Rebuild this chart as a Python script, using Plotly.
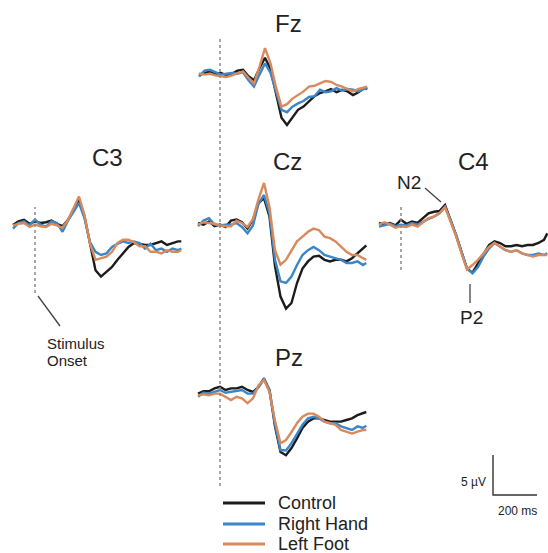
import plotly.graph_objects as go

W, H = 548, 553
PX_MS = 0.22   # pixels per millisecond
PX_UV = 8.0    # pixels per microvolt

# time points (ms)
T = [-100, -75, -50, -25, 0, 25, 50, 75, 100, 125, 150, 175, 200, 225, 250, 275,
     300, 325, 350, 375, 400, 425, 450, 475, 500, 525, 550, 575, 600, 625, 650, 665]

# amplitudes (microvolts, negative plotted up)
fz_control    = [0.25, 0.0, -0.2, 0.1, 0.0, 0.3, 0.1, -0.3, -0.4, 0.4, 0.9, -0.6, -1.9, -0.5, 2.6, 5.6,
                 6.5, 5.6, 4.6, 4.2, 3.6, 2.9, 2.5, 2.3, 2.0, 2.4, 2.1, 2.3, 2.75, 2.4, 1.9, 2.0]
fz_right_hand = [0.45, -0.3, -0.4, -0.1, 0.2, 0.1, 0.0, 0.1, -0.1, 0.9, 1.7, 0.2, -1.2, 0.0, 2.4, 4.6,
                 4.9, 4.2, 3.8, 3.5, 3.0, 2.9, 2.1, 2.4, 2.3, 1.9, 2.2, 2.0, 2.1, 2.3, 2.0, 1.9]
fz_left_foot  = [0.05, 0.2, 0.1, 0.3, 0.4, 0.5, 0.3, 0.0, -0.2, 0.6, 1.3, -0.8, -3.1, -1.2, 1.8, 4.2,
                 3.9, 3.2, 2.8, 2.3, 1.7, 1.6, 1.3, 1.0, 1.1, 1.5, 1.7, 2.0, 2.3, 2.0, 1.8, 1.7]

c3_control    = [0.25, -0.2, -0.4, 0.1, -0.2, 0.0, -0.1, -0.3, 0.1, 0.4, -0.4, -1.6, -2.9, -0.8, 2.5, 5.9,
                 6.7, 6.1, 5.5, 4.6, 3.8, 3.0, 2.5, 2.6, 2.75, 2.75, 2.5, 2.3, 2.75, 2.5, 2.3, 2.3]
c3_right_hand = [0.7, 0.0, -0.2, 0.3, -0.45, 0.2, 0.45, -0.2, 0.0, 1.1, -0.3, -1.4, -2.5, -0.6, 2.4, 3.6,
                 4.0, 3.8, 3.0, 2.6, 2.3, 2.5, 2.3, 2.5, 3.2, 2.6, 3.4, 3.2, 3.6, 3.2, 3.4, 3.2]
c3_left_foot  = [0.3, 0.1, 0.0, 0.5, 0.2, 0.4, 0.5, 0.1, 0.3, 0.6, -0.4, -1.8, -3.3, -1.0, 2.6, 4.6,
                 4.4, 4.2, 3.6, 2.5, 2.1, 2.1, 2.4, 2.9, 2.9, 3.6, 3.6, 3.8, 3.4, 3.6, 3.6, 3.4]

cz_control    = [0.0, 0.2, -0.2, 0.4, 0.2, 0.5, -0.3, -0.45, -0.1, 0.7, -0.4, -2.5, -3.1, -0.8, 5.4, 9.2,
                 10.7, 10.0, 7.5, 5.7, 4.8, 4.2, 4.1, 4.6, 4.8, 4.6, 4.6, 4.8, 4.4, 3.8, 3.2, 2.8]
cz_right_hand = [0.4, -0.3, -0.6, 0.2, 0.3, 0.2, 0.2, 0.0, 0.5, 1.3, 0.3, -2.4, -3.5, -1.2, 4.6, 7.3,
                 7.5, 6.7, 5.25, 4.0, 3.4, 3.0, 3.4, 4.0, 4.2, 4.4, 4.6, 5.0, 5.0, 4.8, 5.25, 5.0]
cz_left_foot  = [0.2, -0.1, 0.0, 0.1, 0.3, 0.4, 0.4, -0.3, 0.0, 0.5, -0.5, -3.0, -5.0, -2.0, 3.4, 5.2,
                 4.6, 3.4, 2.3, 1.7, 1.1, 0.7, 0.9, 1.7, 1.9, 2.3, 3.0, 3.6, 4.0, 4.0, 4.4, 4.6]

c4_control    = [0.0, 0.2, 0.0, 0.3, -0.4, 0.1, -0.2, 0.0, -0.6, -1.2, -1.4, -1.5, -2.25, -0.4, 1.5, 3.6,
                 5.7, 6.2, 5.0, 3.9, 2.75, 2.3, 2.5, 2.9, 2.9, 2.75, 2.9, 2.75, 2.75, 2.5, 2.1, 1.3]
c4_right_hand = [0.45, 0.3, 0.1, 0.4, 0.2, 0.3, 0.0, 0.2, -0.2, -0.5, -0.8, -1.2, -2.0, -0.4, 1.5, 3.6,
                 5.7, 6.3, 5.5, 4.2, 3.2, 2.5, 2.9, 3.4, 3.6, 3.4, 3.8, 4.0, 4.0, 3.8, 4.0, 3.8]
c4_left_foot  = [0.2, -0.1, 0.2, 0.6, 0.4, 0.5, 0.2, 0.45, -0.1, -0.6, -0.8, -1.2, -2.0, -0.3, 1.6, 3.8,
                 5.8, 5.25, 4.6, 3.8, 3.0, 2.5, 2.9, 3.4, 3.6, 3.4, 3.8, 4.0, 4.2, 4.0, 4.0, 4.0]

pz_control    = [0.2, -0.1, -0.1, -0.45, -0.65, -0.25, -0.45, -0.45, -0.65, -0.25, 0.0, -0.65, -1.7, -0.25, 4.3, 7.5,
                 7.9, 7.0, 5.8, 4.5, 3.7, 3.3, 3.3, 3.5, 3.7, 3.7, 3.7, 3.5, 3.3, 2.9, 2.7, 2.5]
pz_right_hand = [0.6, 0.1, 0.2, 0.0, -0.25, 0.1, 0.0, -0.1, -0.25, 0.2, 0.2, -0.6, -1.6, -0.2, 4.0, 7.25,
                 7.3, 6.4, 5.2, 4.1, 3.3, 3.1, 3.3, 3.7, 3.9, 3.9, 4.3, 4.5, 4.75, 4.3, 4.5, 4.2]
pz_left_foot  = [0.4, 0.3, 0.4, 0.2, 0.2, 0.6, 1.0, 0.6, 0.8, 1.4, 0.8, -0.85, -1.5, 0.0, 3.6, 6.4,
                 6.0, 5.0, 3.9, 3.1, 2.7, 2.7, 3.1, 3.7, 3.9, 4.1, 4.75, 4.95, 5.2, 4.95, 4.75, 4.75]

CONDITIONS = ["Control", "Right Hand", "Left Foot"]
COLORS = {"Control": "#1c1c1c", "Right Hand": "#3a86c8", "Left Foot": "#d98a5c"}

# panel: name, pixel x of stimulus onset, pixel y of baseline, series
panels = [
    ("Fz", 221, 73, [fz_control, fz_right_hand, fz_left_foot]),
    ("C3", 35, 223, [c3_control, c3_right_hand, c3_left_foot]),
    ("Cz", 220, 223, [cz_control, cz_right_hand, cz_left_foot]),
    ("C4", 401, 223, [c4_control, c4_right_hand, c4_left_foot]),
    ("Pz", 220, 392, [pz_control, pz_right_hand, pz_left_foot]),
]

XR = [-112, 668]
YR = [-7, 12]

def xdom(x0, xr):
    a = (x0 + xr[0] * PX_MS) / W
    b = (x0 + xr[1] * PX_MS) / W
    return [max(0, a), min(1, b)]

def ydom(y0, yr):
    top = y0 + yr[0] * PX_UV
    bot = y0 + yr[1] * PX_UV
    return [max(0, 1 - bot / H), min(1, 1 - top / H)]

fig = go.Figure()
layout = dict(width=W, height=H, autosize=False,
              margin=dict(l=0, r=0, t=0, b=0, autoexpand=False),
              paper_bgcolor="white", plot_bgcolor="white", showlegend=False,
              font=dict(family="Arial, Liberation Sans, sans-serif", color="#222"))

for i, (name, X0, Y0, series) in enumerate(panels, start=1):
    for cond, vals in zip(CONDITIONS, series):
        fig.add_trace(go.Scatter(
            x=T, y=vals, mode="lines", name=cond, legendgroup=cond,
            line=dict(color=COLORS[cond], width=2.4),
            xaxis=f"x{i}", yaxis=f"y{i}", hoverinfo="skip"))
    layout[f"xaxis{i}"] = dict(domain=xdom(X0, XR), range=XR, visible=False,
                               anchor=f"y{i}", fixedrange=True)
    layout[f"yaxis{i}"] = dict(domain=ydom(Y0, YR), range=[YR[1], YR[0]], visible=False,
                               anchor=f"x{i}", fixedrange=True)

# scale bar axes (5 µV, 200 ms)
SB_X0, SB_Y0 = 493, 495
SB_XR = [-10, 220]
SB_YR = [-6, 1]
scale_ms = [0, 200]
scale_uv = [-5, 0]
fig.add_trace(go.Scatter(x=[0, 0, scale_ms[1]], y=[scale_uv[0], 0, 0], mode="lines",
                         line=dict(color="#333", width=1.4),
                         xaxis="x6", yaxis="y6", hoverinfo="skip"))
layout["xaxis6"] = dict(domain=xdom(SB_X0, SB_XR), range=SB_XR, visible=False, anchor="y6")
layout["yaxis6"] = dict(domain=ydom(SB_Y0, SB_YR), range=[SB_YR[1], SB_YR[0]], visible=False, anchor="x6")

def py(p):
    return 1 - p / H

def px(p):
    return p / W

shapes = []
dot = dict(color="#8a8a8a", width=1.5, dash="dot")
# stimulus onset lines
shapes.append(dict(type="line", xref="x3", yref="paper", x0=0, x1=0, y0=py(486), y1=py(38), line=dot))
shapes.append(dict(type="line", xref="x2", yref="paper", x0=0, x1=0, y0=py(293), y1=py(207), line=dot))
shapes.append(dict(type="line", xref="x4", yref="paper", x0=0, x1=0, y0=py(270), y1=py(205), line=dot))
# label connectors
conn = dict(color="#444", width=1.3)
shapes.append(dict(type="line", xref="paper", yref="paper", x0=px(38), y0=py(296), x1=px(60), y1=py(326), line=conn))
shapes.append(dict(type="line", xref="paper", yref="paper", x0=px(425), y0=py(188), x1=px(441), y1=py(202), line=conn))
shapes.append(dict(type="line", xref="paper", yref="paper", x0=px(470), y0=py(284), x1=px(470), y1=py(303), line=conn))

annotations = []
def text(t, x, y, size, xanchor="center", color="#222"):
    annotations.append(dict(text=t, x=px(x), y=py(y), xref="paper", yref="paper",
                            showarrow=False, xanchor=xanchor, yanchor="middle",
                            font=dict(size=size, color=color)))

# legend (keys + labels)
LEG_X0, LEG_X1, LEG_TX = 223, 265, 276
LEG_ROWS = [503, 524, 544]
for cond, yrow in zip(CONDITIONS, LEG_ROWS):
    shapes.append(dict(type="line", xref="paper", yref="paper", x0=px(LEG_X0), x1=px(LEG_X1),
                       y0=py(yrow), y1=py(yrow), line=dict(color=COLORS[cond], width=3)))
    text(cond, LEG_TX, yrow, 18, xanchor="left", color="#222")
layout["shapes"] = shapes

text("Fz", 288, 24, 24)
text("C3", 107, 157, 24)
text("Cz", 287, 161, 24)
text("C4", 473, 161, 24)
text("Pz", 289, 357, 24)
text("N2", 409, 182, 19)
text("P2", 471, 317, 19)
text("Stimulus", 45, 343, 15, xanchor="left", color="#222")
text("Onset", 45, 360, 15, xanchor="left", color="#222")
text("5 µV", 473, 482, 12, color="#222")
text("200 ms", 517, 511, 12, color="#222")
layout["annotations"] = annotations

fig.update_layout(**layout)
fig.write_html("out.html")
